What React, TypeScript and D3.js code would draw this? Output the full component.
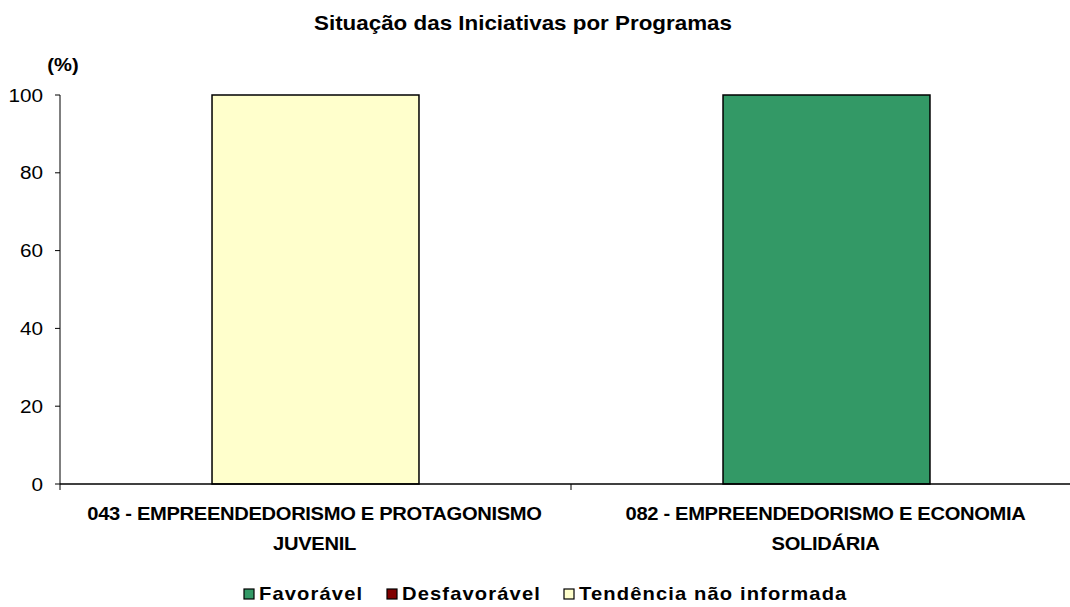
import React from "react";
import * as d3 from "d3";

const categories = [
  ["043 - EMPREENDEDORISMO E PROTAGONISMO", "JUVENIL"],
  ["082 - EMPREENDEDORISMO E ECONOMIA", "SOLIDÁRIA"],
];
const seriesNames = ["Favorável", "Desfavorável", "Tendência não informada"];
const seriesColors = ["#339966", "#800000", "#FFFFCC"];
const favoravel = [0, 100];
const desfavoravel = [0, 0];
const tendencia = [100, 0];
const yTicks = [0, 20, 40, 60, 80, 100];

const SX = 1.12;

function T({ x, y, anchor = "start", size, bold = false, ls = 0, children }: any) {
  return (
    <text transform={`translate(${x},${y}) scale(${SX},1)`} textAnchor={anchor} fontSize={size}
      fontWeight={bold ? "bold" : "normal"} letterSpacing={ls}>{children}</text>
  );
}

export default function App() {
  const W = 1070, H = 607;
  const left = 60, right = 1082, top = 95, bottom = 484;
  const catIdx = categories.map((_, i) => i);
  const x = d3.scaleBand<number>().domain(catIdx).range([left, right]).paddingInner(0).paddingOuter(0);
  const y = d3.scaleLinear().domain([0, 100]).range([bottom, top]);
  const barW = x.bandwidth() * 0.405;
  const rows = catIdx.map((i) => ({ i, Favorável: favoravel[i], Desfavorável: desfavoravel[i], "Tendência não informada": tendencia[i] }));
  const stack = d3.stack<any>().keys(seriesNames)(rows);
  const font = "Arial, 'Liberation Sans', sans-serif";
  const legendX = [249, 392, 569];
  return (
    <svg width={W} height={H} style={{ position: "absolute", left: 0, top: 0 }} fontFamily={font}>
      <rect width={W} height={H} fill="#fff" />
      <T x={523} y={30} anchor="middle" size={20} bold>Situação das Iniciativas por Programas</T>
      <T x={63} y={71} anchor="middle" size={18} bold>(%)</T>
      {stack.map((s, si) =>
        s.map((d, j) =>
          d[1] - d[0] > 0 ? (
            <rect key={si + "-" + j}
              x={(x(j) as number) + x.bandwidth() / 2 - barW / 2}
              y={y(d[1])}
              width={barW}
              height={y(d[0]) - y(d[1])}
              fill={seriesColors[si]} stroke="#000" strokeWidth={1.5} />
          ) : null
        )
      )}
      <line x1={left} x2={left} y1={top} y2={bottom} stroke="#000" strokeWidth={1} />
      <line x1={left} x2={W} y1={bottom} y2={bottom} stroke="#000" strokeWidth={1.5} />
      {yTicks.map((t) => (
        <g key={t}>
          <line x1={left - 5} x2={left} y1={y(t)} y2={y(t)} stroke="#000" />
          <T x={43} y={y(t) + 6.5} anchor="end" size={18.5}>{t}</T>
        </g>
      ))}
      {catIdx.map((i) => (
        <line key={i} x1={x(i) as number} x2={x(i) as number} y1={bottom} y2={bottom + 6} stroke="#000" />
      ))}
      {categories.map((c, i) =>
        c.map((ln, k) => (
          <T key={i + "-" + k} x={(x(i) as number) + x.bandwidth() / 2 - 1} y={520 + k * 30} anchor="middle" size={18} bold ls={-0.3}>{ln}</T>
        ))
      )}
      {seriesNames.map((n, i) => (
        <g key={n}>
          <rect x={legendX[i] - 5} y={589} width={10} height={10} fill={seriesColors[i]} stroke="#000" strokeWidth={1.2} />
          <T x={legendX[i] + 10} y={600} size={18} bold ls={1}>{n}</T>
        </g>
      ))}
    </svg>
  );
}
